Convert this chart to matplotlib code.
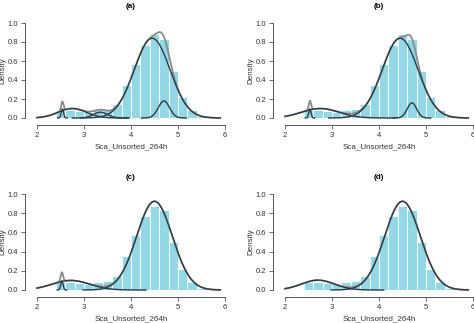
import numpy as np
import matplotlib
matplotlib.use("Agg")
import matplotlib.pyplot as plt

plt.rcParams['font.family'] = ['Liberation Sans', 'DejaVu Sans']

# Histogram of the observed values (bin width 0.2)
bin_edges = [2.4, 2.6, 2.8, 3.0, 3.2, 3.4, 3.6, 3.8, 4.0, 4.2, 4.4,
             4.6, 4.8, 5.0, 5.2, 5.4, 5.6]
bar_density = [0.08, 0.08, 0.07, 0.06, 0.08, 0.09, 0.15, 0.35, 0.57,
               0.77, 0.88, 0.83, 0.50, 0.22, 0.08, 0.02]

# Fitted normal-mixture components per panel: weights, means, sds
panel_titles = ["(a)", "(b)", "(c)", "(d)"]
mix_weights = [
    [0.006, 0.075, 0.023, 0.80, 0.054],
    [0.006, 0.100, 0.80, 0.040],
    [0.006, 0.100, 0.88],
    [0.090, 0.88],
]
mix_means = [
    [2.54, 2.75, 3.35, 4.45, 4.70],
    [2.53, 2.75, 4.45, 4.70],
    [2.53, 2.72, 4.50],
    [2.70, 4.50],
]
mix_sds = [
    [0.025, 0.30, 0.15, 0.38, 0.12],
    [0.025, 0.40, 0.38, 0.10],
    [0.025, 0.40, 0.38],
    [0.35, 0.38],
]
x_label = "Sca_Unsorted_264h"
y_label = "Density"
x_ticks = [2, 3, 4, 5, 6]
y_ticks = [0.0, 0.2, 0.4, 0.6, 0.8, 1.0]


def normal_pdf(x, m, s):
    return np.exp(-0.5 * ((x - m) / s) ** 2) / (s * np.sqrt(2 * np.pi))


W, H = 474, 323
fig = plt.figure(figsize=(W / 100, H / 100), dpi=100)

# axes rectangles in pixels: (x at value 2, y at density 0, y at density 1)
layout = [(37, 118, 23), (285, 118, 23), (37, 290, 194), (285, 290, 194)]
px_per_unit = 47.0
bar_color = "#92d8e6"
dark = "#2e3a42"
grey = "#8a8a8a"

for k in range(4):
    x2, y0, y1 = layout[k]
    xlo, xhi = 1.9, 6.1
    left = x2 - (2 - xlo) * px_per_unit
    width = (xhi - xlo) * px_per_unit
    ax = fig.add_axes([left / W, 1 - y0 / H, width / W, (y0 - y1) / H])
    ax.set_xlim(xlo, xhi)
    ax.set_ylim(0, 1.0)

    widths = np.diff(bin_edges)
    ax.bar(bin_edges[:-1], bar_density, width=widths, align='edge',
           color=bar_color, edgecolor='white', linewidth=0.6, zorder=1)

    w, m, s = mix_weights[k], mix_means[k], mix_sds[k]
    xs = np.linspace(2.0, 5.9, 800)
    total = sum(wi * normal_pdf(xs, mi, si) for wi, mi, si in zip(w, m, s))
    ax.plot(xs, total, color=grey, lw=1.3, zorder=2, clip_on=False)
    for wi, mi, si in zip(w, m, s):
        lo = max(2.0, mi - 4.0 * si)
        hi = min(5.9, mi + 4.0 * si)
        xc = np.linspace(lo, hi, 400)
        ax.plot(xc, wi * normal_pdf(xc, mi, si), color=dark, lw=1.0,
                zorder=3, clip_on=False)

    for side in ("top", "right"):
        ax.spines[side].set_visible(False)
    ax.spines["left"].set_position(("outward", 5))
    ax.spines["bottom"].set_position(("outward", 5))
    ax.spines["left"].set_bounds(0, 1.0)
    ax.spines["bottom"].set_bounds(2, 6)
    for side in ("left", "bottom"):
        ax.spines[side].set_color("#555555")
        ax.spines[side].set_linewidth(0.7)
    ax.set_xticks(x_ticks)
    ax.set_xticklabels([str(v) for v in x_ticks])
    ax.set_yticks(y_ticks)
    ax.set_yticklabels([f"{v:.1f}" for v in y_ticks])
    ax.tick_params(axis='both', labelsize=5.5, length=3, width=0.6,
                   color="#555555", labelcolor="#333333", pad=2)
    ax.set_xlabel(x_label, fontsize=5.8, color="#333333", labelpad=3)
    ax.set_ylabel(y_label, fontsize=5.8, color="#333333", labelpad=1)
    ax.set_title(panel_titles[k], fontsize=5.8, fontweight='bold', pad=11)
    ax.patch.set_alpha(0)

fig.savefig("out.png", dpi=100)
